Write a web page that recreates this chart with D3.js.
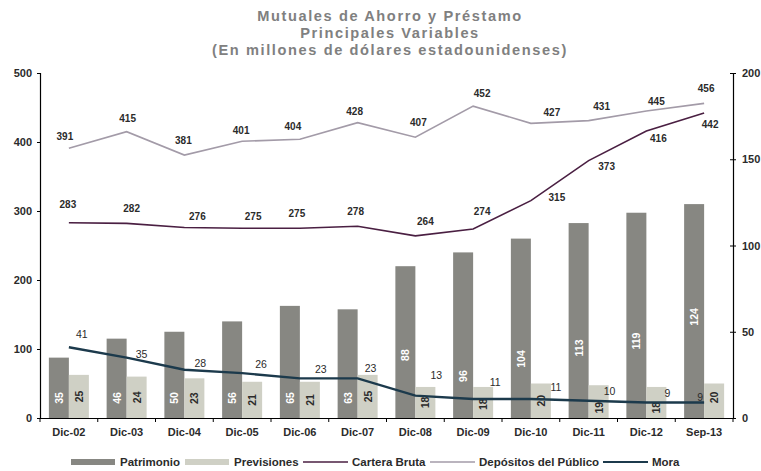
<!DOCTYPE html>
<html><head><meta charset="utf-8">
<script src="https://cdn.jsdelivr.net/npm/d3@7/dist/d3.min.js"></script>
<style>body{margin:0;background:#fff}svg{display:block;font-family:"Liberation Sans",Arial,sans-serif}</style>
</head><body>
<svg id="c" width="761" height="471"></svg>
<script>
const categories = ["Dic-02","Dic-03","Dic-04","Dic-05","Dic-06","Dic-07","Dic-08","Dic-09","Dic-10","Dic-11","Dic-12","Sep-13"];
const patrimonio = [35,46,50,56,65,63,88,96,104,113,119,124];
const previsiones = [25,24,23,21,21,25,18,18,20,19,18,20];
const carteraBruta = [283,282,276,275,275,278,264,274,315,373,416,442];
const depositos = [391,415,381,401,404,428,407,452,427,431,445,456];
const mora = [41,35,28,26,23,23,13,11,11,10,9,9];
const leftTicks = [0,100,200,300,400,500];
const rightTicks = [0,50,100,150,200];
const titleLines = ["Mutuales de Ahorro y Préstamo","Principales Variables","(En millones de dólares estadounidenses)"];

// label layout (offsets in px / positions in right-axis units)
const depLabelOff = [[-4,-12],[1,-13],[-1,-15],[-1,-11],[-7,-13],[-3,-11],[3,-15],[9,-13],[21,-11],[13,-14],[10,-9],[2,-15]];
const carLabelOff = [[-1,-18],[5,-15],[13,-11],[11,-12],[-3,-15],[-2,-15],[10,-14],[9,-17],[26,-3],[18,6],[12,8],[6,11]];
const moraLabelOff = [[13,-13],[15,-4],[16,-7],[19,-9],[21,-9],[13,-10],[21,-21],[22,-17],[25,-12],[21,-10],[21,-9],[-4,-5]];
const patLabelPos = [11.6,11.6,11.6,11.6,11.6,11.6,36.5,24.3,34.2,40.6,44.6,58.6];
const prevLabelPos = [12.5,12,11.5,10.5,10.5,12.5,9,8,10,6,6,11.9];

const C = {pat:"#878782", prev:"#cfd0c5", car:"#4a1f42", dep:"#a39ba8", mora:"#1c3a4c", txt:"#2b2b2b"};
const svg = d3.select("#c");
const L = 40, R = 733, T = 73, B = 418;

const x = d3.scaleBand().domain(categories).range([L,R]);
const xs = d3.scaleBand().domain(["p","v"]).range([x.bandwidth()/2-20, x.bandwidth()/2+20]);
const yL = d3.scaleLinear().domain([0,500]).range([B,T]);
const yR = d3.scaleLinear().domain([0,200]).range([B,T]);
const cx = (i) => x(categories[i]) + x.bandwidth()/2;

// title
svg.append("g").selectAll("text").data(titleLines).join("text")
  .attr("x",390).attr("y",(d,i)=>21+i*17).attr("text-anchor","middle")
  .attr("font-size",14.6).attr("letter-spacing",1.6).attr("font-weight","bold").attr("fill","#808080").text(d=>d);

// bars
const gb = svg.append("g");
gb.selectAll("rect.p").data(patrimonio).join("rect")
  .attr("x",(d,i)=>x(categories[i])+xs("p")).attr("width",xs.bandwidth())
  .attr("y",d=>yR(d)).attr("height",d=>B-yR(d)).attr("fill",C.pat);
gb.selectAll("rect.v").data(previsiones).join("rect")
  .attr("x",(d,i)=>x(categories[i])+xs("v")).attr("width",xs.bandwidth())
  .attr("y",d=>yR(d)).attr("height",d=>B-yR(d)).attr("fill",C.prev);

// bar labels
function barLabels(vals, pos, key, color){
  svg.append("g").selectAll("text").data(vals).join("text")
    .attr("transform",(d,i)=>`translate(${x(categories[i])+xs(key)+xs.bandwidth()/2},${yR(pos[i])}) rotate(-90)`)
    .attr("text-anchor","middle").attr("dominant-baseline","central")
    .attr("font-size",10.5).attr("font-weight","bold").attr("fill",color).text(d=>d);
}
barLabels(patrimonio, patLabelPos, "p", "#ffffff");
barLabels(previsiones, prevLabelPos, "v", "#2b2b2b");

// lines
function drawLine(vals, scale, color, w){
  svg.append("path").datum(vals)
    .attr("d", d3.line().x((d,i)=>cx(i)).y(d=>scale(d)))
    .attr("fill","none").attr("stroke",color).attr("stroke-width",w);
}
drawLine(depositos, yL, C.dep, 1.6);
drawLine(carteraBruta, yL, C.car, 1.6);
drawLine(mora, yR, C.mora, 2.4);

function lineLabels(vals, scale, off, bold){
  svg.append("g").selectAll("text").data(vals).join("text")
    .attr("x",(d,i)=>cx(i)+off[i][0]).attr("y",(d,i)=>scale(d)+off[i][1])
    .attr("text-anchor","middle").attr("dominant-baseline","central")
    .attr("font-size",bold?10:10.5).attr("font-weight",bold?"bold":"normal")
    .attr("fill",C.txt).text(d=>d);
}
lineLabels(depositos, yL, depLabelOff, true);
lineLabels(carteraBruta, yL, carLabelOff, true);
lineLabels(mora, yR, moraLabelOff, false);

// axes
const axL = svg.append("g").attr("transform",`translate(${L},0)`)
  .call(d3.axisLeft(yL).tickValues(leftTicks).tickSize(3).tickPadding(5));
const axR = svg.append("g").attr("transform",`translate(${R},0)`)
  .call(d3.axisRight(yR).tickValues(rightTicks).tickSize(3).tickPadding(6));
[axL,axR].forEach(a=>{
  a.select(".domain").attr("stroke","#000").attr("stroke-width",1.2);
  a.selectAll(".tick line").attr("stroke","#000");
  a.selectAll("text").attr("font-size",11).attr("font-weight","bold").attr("fill",C.txt)
   .attr("font-family","Liberation Sans, Arial, sans-serif");
});
axR.selectAll(".tick line").attr("x1",-3);
const axB = svg.append("g").attr("transform",`translate(0,${B})`)
  .call(d3.axisBottom(x).tickSize(0).tickPadding(10));
axB.select(".domain").attr("stroke","#000").attr("stroke-width",1.2);
axB.selectAll("text").attr("font-size",11).attr("font-weight","bold").attr("fill",C.txt)
  .attr("font-family","Liberation Sans, Arial, sans-serif");
// category separator ticks
svg.append("g").selectAll("line").data(d3.range(categories.length+1)).join("line")
  .attr("x1",i=>L+i*x.step()).attr("x2",i=>L+i*x.step())
  .attr("y1",B).attr("y2",B+4).attr("stroke","#000");

// legend
const legend = [
  {name:"Patrimonio", color:C.pat, type:"rect", x:71},
  {name:"Previsiones", color:C.prev, type:"rect", x:185},
  {name:"Cartera Bruta", color:C.car, type:"line", x:303},
  {name:"Depósitos del Público", color:C.dep, type:"line", x:430},
  {name:"Mora", color:C.mora, type:"line", x:603}
];
const lg = svg.append("g").selectAll("g").data(legend).join("g")
  .attr("transform",d=>`translate(${d.x},462)`);
lg.filter(d=>d.type==="rect").append("rect").attr("x",0).attr("y",-3).attr("width",44).attr("height",6).attr("fill",d=>d.color);
lg.filter(d=>d.type==="line").append("line").attr("x1",0).attr("x2",45).attr("y1",0).attr("y2",0)
  .attr("stroke",d=>d.color).attr("stroke-width",d=>d.name==="Mora"?2.2:1.6);
lg.append("text").attr("x",49).attr("y",0).attr("dominant-baseline","central")
  .attr("font-size",11.5).attr("font-weight","bold").attr("fill",C.txt).text(d=>d.name);
</script>
</body></html>
